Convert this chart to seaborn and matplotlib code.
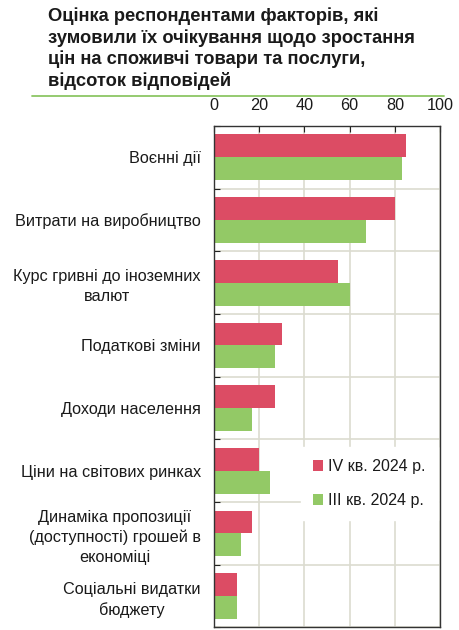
import matplotlib
matplotlib.use("Agg")
import matplotlib.pyplot as plt
from matplotlib.lines import Line2D
from matplotlib.ticker import FixedLocator
import seaborn as sns
import pandas as pd
import numpy as np

# --- DATA ---
categories = [
    "Воєнні дії",
    "Витрати на виробництво",
    "Курс гривні до іноземних\nвалют",
    "Податкові зміни",
    "Доходи населення",
    "Ціни на світових ринках",
    "Динаміка пропозиції\n(доступності) грошей в\nекономіці",
    "Соціальні видатки\nбюджету",
]
q4_2024 = [85, 80, 55, 30, 27, 20, 17, 10]
q3_2024 = [83, 67, 60, 27, 17, 25, 12, 10]
series_names = ["IV кв. 2024 р.", "III кв. 2024 р."]
x_ticks = [0, 20, 40, 60, 80, 100]
title = ("Оцінка респондентами факторів, які\n"
         "зумовили їх очікування щодо зростання\n"
         "цін на споживчі товари та послуги,\n"
         "відсоток відповідей")

RED = "#dc4c64"
GREEN = "#93c966"
GRID = "#dcdcd0"
TXT = "#1a1a1a"

df = pd.DataFrame({
    "factor": categories * 2,
    "value": q4_2024 + q3_2024,
    "period": [series_names[0]] * len(categories) + [series_names[1]] * len(categories),
})

sns.set_theme(style="white")
plt.rcParams["font.family"] = ["Liberation Sans", "DejaVu Sans"]

fig = plt.figure(figsize=(4.59, 6.30), dpi=100)
ax = fig.add_axes([0.466, 0.004, 0.493, 0.796])

sns.barplot(data=df, x="value", y="factor", hue="period", orient="h",
            palette=[RED, GREEN], width=0.73, saturation=1,
            edgecolor="none", ax=ax, legend=True)

# --- AXES ---
ax.set_xlim(0, 100)
ax.set_ylim(len(categories) - 0.5, -0.5)
ax.xaxis.tick_top()
ax.set_xticks(x_ticks)
ax.set_xticklabels([str(t) for t in x_ticks])
ax.set_xlabel("")
ax.set_ylabel("")
ax.tick_params(axis="x", which="major", top=True, direction="in", length=4,
               width=0.8, color="#222222", labelsize=11.7, labelcolor=TXT,
               pad=9)
ax.tick_params(axis="y", which="major", length=0, labelsize=11.7,
               labelcolor=TXT, pad=9.5)
for lbl in ax.get_yticklabels():
    lbl.set_multialignment("center")
    lbl.set_linespacing(1.38)

# boundaries between categories: minor ticks + horizontal grid
bounds = np.arange(-0.5, len(categories) + 0.5, 1)
ax.yaxis.set_minor_locator(FixedLocator(bounds))
ax.tick_params(axis="y", which="minor", left=True, direction="in", length=4,
               width=0.8, color="#222222")
ax.grid(axis="x", which="major", color=GRID, lw=1.2)
ax.grid(axis="y", which="minor", color=GRID, lw=1.2)
ax.set_axisbelow(True)

for s in ax.spines.values():
    s.set_visible(True)
    s.set_color("#333333")
    s.set_linewidth(1.0)

# --- LEGEND ---
leg = ax.legend(loc="upper left", bbox_to_anchor=(0.385, 0.359),
                frameon=True, fancybox=False, framealpha=1,
                edgecolor="white", facecolor="white",
                fontsize=11.5, handlelength=0.65, handleheight=0.65,
                handletextpad=0.3, labelspacing=1.15, borderpad=0.75,
                borderaxespad=0)
for t in leg.get_texts():
    t.set_color(TXT)

# --- TITLE + RULE ---
fig.text(0.105, 0.988, title, ha="left", va="top", fontsize=13.2,
         fontweight="bold", color=TXT, linespacing=1.26)
fig.add_artist(Line2D([0.07, 0.967], [0.848, 0.848], transform=fig.transFigure,
                      color="#8cc665", lw=1.3))

fig.savefig("out.png", dpi=100)
